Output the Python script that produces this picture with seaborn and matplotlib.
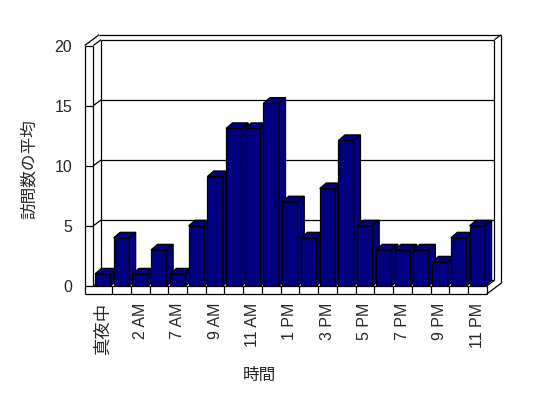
import matplotlib
matplotlib.use("Agg")
import matplotlib.pyplot as plt
import seaborn as sns
from matplotlib.patches import Polygon

# ---- data ----
hours = ['真夜中', '1 AM', '2 AM', '6 AM', '7 AM', '8 AM', '9 AM', '10 AM', '11 AM',
         '12 PM', '1 PM', '2 PM', '3 PM', '4 PM', '5 PM', '6 PM', '7 PM', '8 PM',
         '9 PM', '10 PM', '11 PM']
visits = [1, 4, 1, 3, 1, 5, 9.1, 13.1, 13.1, 15.2, 7, 4, 8.1, 12.1, 5, 3, 3, 3, 2, 4, 5]
yticks = [0, 5, 10, 15, 20]
xlabel = '時間'
ylabel = '訪問数の平均'

NAVY = '#000080'
LW = 0.9

sns.set_style('white')
plt.rcParams['font.family'] = ['Liberation Sans', 'Noto Sans CJK JP']
plt.rcParams['font.size'] = 11.5

W, H = 548, 398
fig = plt.figure(figsize=(W / 100, H / 100), dpi=100)
PX_L, PX_R, PX_B, PX_T = 93.3, 486.7, 286, 45.5
ax = fig.add_axes([PX_L / W, 1 - PX_B / H, (PX_R - PX_L) / W, (PX_B - PX_T) / H])

sns.barplot(x=hours, y=visits, color=NAVY, saturation=1, width=0.83,
            edgecolor='black', linewidth=LW, ax=ax)
n = len(hours)
x0, x1 = -0.5, n - 0.5
y0, y1 = yticks[0], yticks[-1]
ax.set_xlim(x0, x1)
ax.set_ylim(y0, y1)

sx = (PX_R - PX_L) / n
sy = (PX_B - PX_T) / (y1 - y0)


def off(px, py):
    return px / sx, py / sy


dx, dy = off(7.8, 5.8)      # depth to back wall inner face
tx, ty = off(6.7, 5.0)      # back wall thickness
wx, _ = off(8.6, 0)         # left wall thickness
_, fy = off(0, 8.0)         # floor thickness
bdx, bdy = off(6.5, 5.6)    # bar depth


def line(xs, ys, z=1):
    ax.plot(xs, ys, color='black', lw=LW, clip_on=False, zorder=z,
            solid_capstyle='butt')


# back wall inner face + gridlines
for v in yticks:
    line([x0 + dx, x1 + dx], [v + dy, v + dy])
    # across left wall inner face
    line([x0, x0 + dx], [v, v + dy])
    # across front face of the left wall
    line([x0 - wx, x0], [v, v])
line([x0 + dx, x0 + dx], [y0 + dy, y1 + dy])
line([x1 + dx, x1 + dx], [y0 + dy, y1 + dy])
# back wall outer edges
line([x0 - wx + dx + tx, x1 + dx + tx], [y1 + dy + ty, y1 + dy + ty])
line([x1 + dx + tx, x1 + dx + tx], [y0 - fy + dy + ty, y1 + dy + ty])
line([x1 + dx, x1 + dx + tx], [y1 + dy, y1 + dy + ty])
# left wall
line([x0, x0], [y0, y1])
line([x0 - wx, x0 - wx], [y0 - fy, y1])
line([x0 - wx, x0 - wx + dx + tx], [y1, y1 + dy + ty])
# floor
line([x0, x1], [y0, y0])
line([x0 - wx, x1], [y0 - fy, y0 - fy])
line([x1, x1], [y0 - fy, y0])
line([x1, x1 + dx], [y0, y0 + dy])
line([x1, x1 + dx + tx], [y0 - fy, y0 - fy + dy + ty])
for k in range(n - 1):
    line([k + 0.5, k + 0.5], [y0 - fy, y0])

# 3D bar tops & sides
for i, p in enumerate(ax.patches[:n]):
    x, w, h = p.get_x(), p.get_width(), p.get_height()
    z = 5 + 3 * i
    p.set_zorder(z)
    top = Polygon([(x, h), (x + w, h), (x + w + bdx, h + bdy), (x + bdx, h + bdy)],
                  closed=True, facecolor=NAVY, edgecolor='black', lw=LW,
                  zorder=z + 1, clip_on=False)
    side = Polygon([(x + w, 0), (x + w + bdx, bdy), (x + w + bdx, h + bdy), (x + w, h)],
                   closed=True, facecolor=NAVY, edgecolor='black', lw=LW,
                   zorder=z + 1, clip_on=False)
    ax.add_patch(top)
    ax.add_patch(side)

for s in ax.spines.values():
    s.set_visible(False)
ax.set_facecolor('none')
ax.grid(False)

ax.set_xticks(range(n))
ax.set_xticklabels([h if i % 2 == 0 else '' for i, h in enumerate(hours)], rotation=90)
ax.get_xticklabels()[0].set_fontsize(12.5)
ax.set_yticks(yticks)
ax.set_yticklabels([str(v) for v in yticks])
ax.tick_params(axis='x', length=0, pad=12.2)
ax.tick_params(axis='y', length=0, pad=15.3)
ax.set_xlabel('')
ax.set_ylabel('')

fig.text(29.5 / W, 1 - 169 / H, ylabel, rotation=90, ha='center', va='center', fontsize=12)
fig.text(259.7 / W, 1 - 375.5 / H, xlabel, ha='center', va='center', fontsize=12)

fig.savefig('out.png', dpi=100, facecolor='white')
